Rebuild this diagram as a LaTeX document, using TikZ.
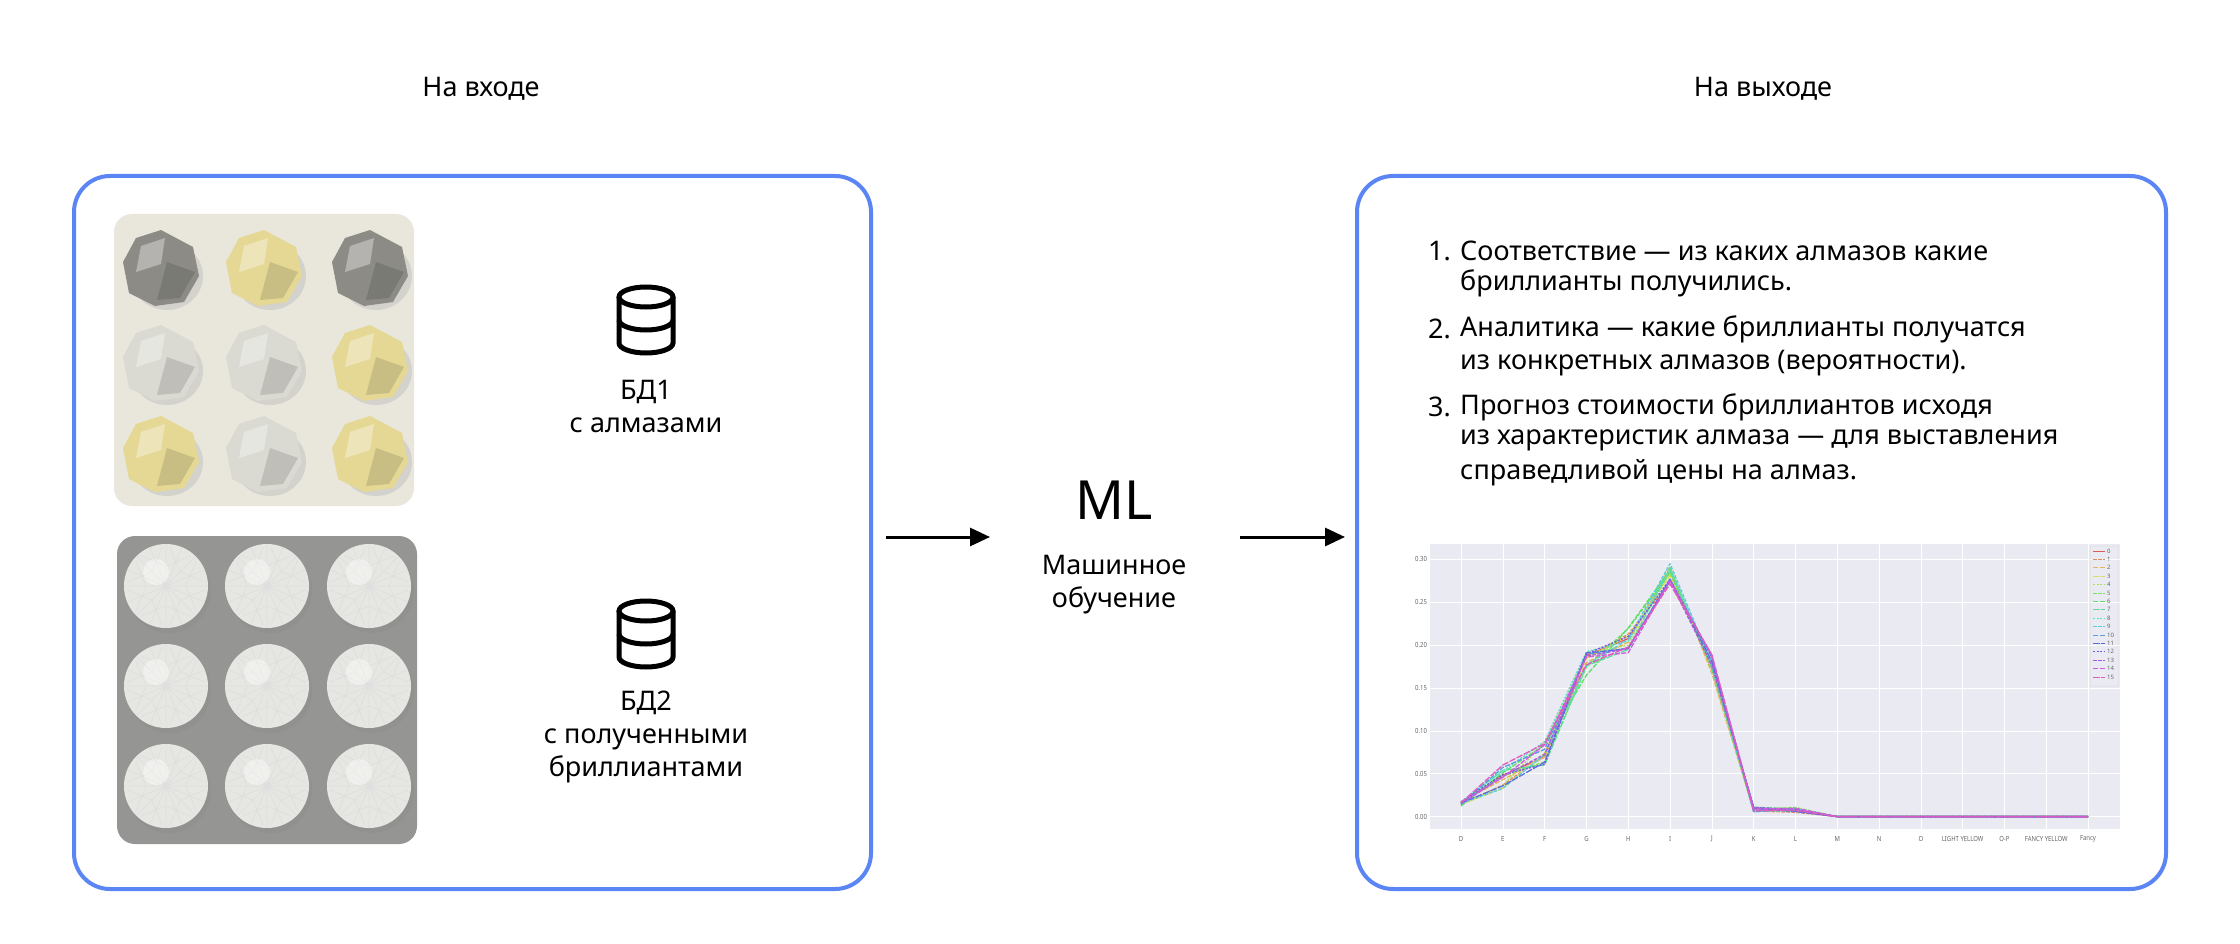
\documentclass[tikz,border=0pt]{standalone}
\usepackage{fontspec}
\setmainfont{Noto Sans}
\usetikzlibrary{arrows.meta}
\definecolor{boxblue}{HTML}{5B84F5}
\definecolor{cream}{HTML}{E9E6DC}
\definecolor{rgray}{HTML}{8C8B85}
\definecolor{ryel}{HTML}{E4D894}
\definecolor{rwhite}{HTML}{DAD9D2}
\definecolor{pbg}{HTML}{959593}
\definecolor{cut}{HTML}{E6E6E2}
\definecolor{chartbg}{HTML}{EAEAF2}
\begin{document}
\begin{tikzpicture}[x=1pt,y=-1pt,
  frame/.style={draw=boxblue,line width=4pt,rounded corners=36pt},
  arr/.style={line width=3pt,-{Triangle[length=20pt,width=18pt]}},
  txt/.style={font=\fontsize{27}{33}\selectfont,align=center},
  li/.style={anchor=west,font=\fontsize{27}{33}\selectfont,inner sep=0},
  tick/.style={font=\fontsize{7}{8}\selectfont,text=black!60,inner sep=1pt,xscale=0.85},
  db/.style={line width=5pt}]
\useasboundingbox (0,0) rectangle (2240,944);
\fill[white] (0,0) rectangle (2240,944);
% titles
\node[txt] (tin) at (481,89) {На входе};
\node[txt] (tout) at (1763,89) {На выходе};
% boxes
\node[frame,minimum width=797pt,minimum height=713pt] (lbox) at (472.5,532.5) {};
\node[frame,minimum width=809pt,minimum height=713pt] (rbox) at (1761.5,532.5) {};
% photo 1: rough diamonds
\node[fill=cream,rounded corners=18pt,minimum width=300pt,minimum height=292pt,inner sep=0] (ph1) at (264,360) {};
\foreach \x/\y/\c/\s in {161/268/rgray/0, 264/268/ryel/1, 370/268/rgray/0,
                        161/363/rwhite/1, 264/363/rwhite/0, 370/363/ryel/1,
                        161/454/ryel/1, 264/454/rwhite/1, 370/454/ryel/1}{
  \fill[black!25,opacity=0.5] (\x+6,\y+8) ellipse (36 and 34);
  \fill[\c] (\x,\y-38) -- (\x+32,\y-21) -- (\x+38,\y+8) -- (\x+23,\y+34) -- (\x-6,\y+38) -- (\x-32,\y+25) -- (\x-38,\y-6) -- (\x-25,\y-30) -- cycle;
  \fill[white,opacity=0.35] (\x-20,\y-22) -- (\x+4,\y-30) -- (\x,\y-4) -- (\x-25,\y+4) -- cycle;
  \fill[black,opacity=0.12] (\x+6,\y-6) -- (\x+34,\y+4) -- (\x+19,\y+30) -- (\x-4,\y+32) -- cycle;
}
% photo 2: cut diamonds
\node[fill=pbg,rounded corners=18pt,minimum width=300pt,minimum height=308pt,inner sep=0] (ph2) at (267,690) {};
\foreach \x in {166,267,369}{\foreach \y in {586,686,786}{
  \fill[black!45,opacity=0.4] (\x+3,\y+5) circle (42);
  \fill[cut] (\x,\y) circle (42);
  \draw[white!75!gray,line width=0.8pt] \foreach \a in {0,22.5,...,337.5}{(\x,\y) -- ++(\a:42)};
  \draw[white!75!gray,line width=0.8pt] \foreach \a in {0,45,...,315}{(\x,\y)++(\a:20) -- ++(\a+67.5:27)  (\x,\y)++(\a:20) -- ++(\a-67.5:27)};
  \fill[white,opacity=0.4] (\x-10,\y-14) circle (13);
}}
% DB icons
\foreach \n/\y in {db1/319, db2/633}{
  \coordinate (\n) at (646,\y);
  \draw[db] (646,\y-22) ellipse (27 and 10);
  \draw[db] (619,\y-22) -- (619,\y+24) arc[start angle=180,end angle=0,x radius=27,y radius=10] -- (673,\y-22);
  \draw[db] (619,\y+1) arc[start angle=180,end angle=0,x radius=27,y radius=10];
}
\node[txt] (t1) at (646,406) {БД1\\с алмазами};
\node[txt] (t2) at (646,737) {БД2\\с полученными\\бриллиантами};
% ML
\node[font=\fontsize{54}{54}\selectfont] (ml) at (1114,500) {ML};
\node[txt] (mlt) at (1114,585) {Машинное\\обучение};
\coordinate (a1s) at (886,537);
\coordinate (a1e) at (990,537);
\coordinate (a2s) at (1240,537);
\coordinate (a2e) at (1345,537);
\draw[arr] (a1s) -- (a1e);
\draw[arr] (a2s) -- (a2e);
% list
\node[li] (n1) at (1428,251) {1.};
\node[li] (l1a) at (1460,251) {Соответствие — из каких алмазов какие};
\node[li] (l1b) at (1460,283) {бриллианты получились.};
\node[li] (n2) at (1428,329) {2.};
\node[li] (l2a) at (1460,329) {Аналитика — какие бриллианты получатся};
\node[li] (l2b) at (1460,363) {из конкретных алмазов (вероятности).};
\node[li] (n3) at (1428,407) {3.};
\node[li] (l3a) at (1460,407) {Прогноз стоимости бриллиантов исходя};
\node[li] (l3b) at (1460,440) {из характеристик алмаза — для выставления};
\node[li] (l3c) at (1460,473) {справедливой цены на алмаз.};
% chart
\fill[chartbg] (1430,544) rectangle (2120,829);
\foreach \k in {0,...,15}{\draw[white,line width=0.6pt] (1461+41.8*\k,544) -- (1461+41.8*\k,829);}
\foreach \v/\l in {0/0.00,0.05/0.05,0.1/0.10,0.15/0.15,0.2/0.20,0.25/0.25,0.3/0.30}{
  \draw[white,line width=0.6pt] (1430,816.6-858*\v) -- (2120,816.6-858*\v);
  \node[tick,anchor=east] at (1428,816.6-858*\v) {\l};}
\foreach \k/\l in {0/D,1/E,2/F,3/G,4/H,5/I,6/J,7/K,8/L,9/M,10/N,11/O,12/LIGHT YELLOW,13/O-P,14/FANCY YELLOW,15/Fancy}{
  \node[tick] at (1461+41.8*\k,839) {\l};}
\pgfmathsetseed{7}
\foreach \i in {0,...,15}{
  \pgfmathsetmacro\h{int(\i*21)}
  \definecolor{cc}{Hsb}{\h,0.6,0.88}
  \pgfmathsetmacro\dl{ifthenelse(\i==0,20,2+mod(\i,4)*1.5)}
  \pgfmathsetmacro\dg{ifthenelse(\i==0,0,1.5)}
  \draw[cc,line width=1.3pt,dash pattern=on \dl pt off \dg pt,line join=round]
    (1461,{816.6-858*(0.015+0.004*rand)})
    \foreach \k/\v in {1/0.045,2/0.072,3/0.18,4/0.205,5/0.284,6/0.18,7/0.008,8/0.008}{
      -- ({1461+41.8*\k},{816.6-858*(\v+0.014*rand*(\v>0.02)+0.003*rand)})}
    -- (1461+41.8*9,816.6) -- (1461+41.8*15,816.6);
  % legend entry
  \draw[cc,line width=1pt,dash pattern=on \dl pt off \dg pt] (2093,{551+8.4*\i}) -- (2105,{551+8.4*\i});
  \node[font=\fontsize{6}{6}\selectfont,text=black!60,anchor=west,inner sep=0] at (2107,{551+8.4*\i}) {\i};
}
\draw[black!15,line width=0.5pt,rounded corners=1pt] (2090,546) rectangle (2118,686);
\end{tikzpicture}
\end{document}
